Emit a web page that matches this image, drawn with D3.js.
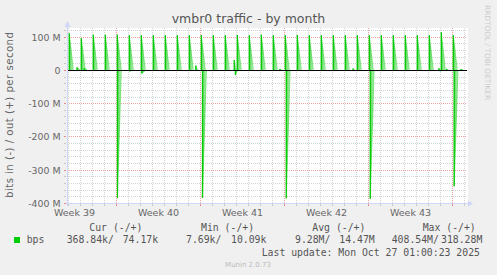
<!DOCTYPE html>
<html>
<head>
<meta charset="utf-8">
<script src="https://cdn.jsdelivr.net/npm/d3@7"></script>
<style>
  body { margin: 0; background: #f0f0f0; }
  svg text { font-family: "DejaVu Sans", sans-serif; fill: #666; }
  svg text.mono { font-family: "DejaVu Sans Mono", monospace; fill: #555; }
</style>
</head>
<body>
<div id="graph"></div>
<script>
// days counted from Mon 22 Sep 2025 00:00, values in Mbit/s
// out (+): daily backup spikes
var outStart = [3.11, 4.11, 5.11, 6.11, 7.11, 8.11, 9.11, 10.11, 11.11, 12.11, 13.11,
                14.11, 15.11, 16.11, 17.11, 18.11, 19.11, 20.11, 21.11, 22.11, 23.11, 24.11,
                25.11, 26.11, 27.11, 28.11, 29.11, 30.11, 31.11, 32.11, 33.11, 34.11, 35.11];
var outPeak  = [110, 95, 106, 106, 106, 104, 104, 104, 104, 104, 104,
                105, 104, 104, 105, 104, 106, 104, 104, 105, 104, 104,
                104, 104, 104, 104, 104, 104, 104, 104, 104, 113, 104];
var outEnd   = [3.44, 4.44, 5.44, 6.44, 7.44, 8.44, 9.44, 10.44, 11.44, 12.44, 13.44,
                14.44, 15.44, 16.44, 17.44, 18.44, 19.44, 20.44, 21.44, 22.44, 23.44, 24.44,
                25.44, 26.44, 27.44, 28.44, 29.44, 30.44, 31.44, 32.44, 33.44, 34.44, 35.44];
// in (-): weekly spikes
var inStart = [7.12, 14.21, 21.19, 28.19, 35.18];
var inPeak  = [-385, -385, -386, -387, -350];
var inEnd   = [7.44, 14.53, 21.51, 28.51, 35.50];
// small bumps near zero
var smallStart = [3.75, 4.35, 8.15, 9.15, 13.65, 16.85, 16.95, 20.65, 26.75, 33.9, 34.0, 34.55, 35.75];
var smallPeak  = [8, 5, -5, -11, 13, 30, -15, 3, 4, 5, -4, 3, 3];
var smallEnd   = [4.0, 4.6, 8.3, 9.5, 13.8, 17.0, 17.15, 20.8, 26.9, 34.05, 34.2, 34.7, 35.9];

var yTicks = [100, 0, -100, -200, -300, -400];
var weekLines = [7, 14, 21, 28, 35];
var weekMid = [3.5, 10.5, 17.5, 24.5, 31.5];
var weekLabels = ["Week 39", "Week 40", "Week 41", "Week 42", "Week 43"];

var legendHead = ["Cur (-/+)", "Min (-/+)", "Avg (-/+)", "Max (-/+)"];
var legendIn = ["368.84k/", "7.69k/", "9.28M/", "408.54M/"];
var legendOut = ["74.17k", "10.09k", "14.47M", "318.28M"];

var margin = {top: 28, left: 67},
    width = 400,
    height = 175;

var svg = d3.select("#graph")
  .append("svg")
    .attr("width", 497)
    .attr("height", 275);

svg.append("rect")
  .attr("width", 497).attr("height", 275)
  .attr("fill", "#f0f0f0");

var g = svg.append("g")
  .attr("transform", "translate(" + margin.left + "," + margin.top + ")");

var x = d3.scaleLinear()
  .domain([2.917, 36.25])
  .range([0, width]);
var y = d3.scaleLinear()
  .domain([-400, 126])
  .range([height, 0]);

function px(v) { return Math.round(v) + 0.5; }

// canvas
g.append("rect")
  .attr("width", width + 1).attr("height", height)
  .attr("fill", "#ffffff");

// minor grid
var minorY = d3.range(-380, 126, 20).filter(function(d) { return d % 100 !== 0; });
var minorX = d3.range(3, 37).filter(function(d) { return weekLines.indexOf(d) < 0; });
g.append("g").selectAll("line").data(minorY).enter().append("line")
  .attr("x1", 0).attr("x2", width)
  .attr("y1", function(d) { return px(y(d)); })
  .attr("y2", function(d) { return px(y(d)); })
  .attr("stroke", "#d4d4d4").attr("stroke-dasharray", "1,1");
g.append("g").selectAll("line").data(minorX).enter().append("line")
  .attr("y1", 0).attr("y2", height)
  .attr("x1", function(d) { return px(x(d)); })
  .attr("x2", function(d) { return px(x(d)); })
  .attr("stroke", "#d4d4d4").attr("stroke-dasharray", "1,1");

// major grid
g.append("g").selectAll("line").data([100, -100, -200, -300]).enter().append("line")
  .attr("x1", 0).attr("x2", width)
  .attr("y1", function(d) { return px(y(d)); })
  .attr("y2", function(d) { return px(y(d)); })
  .attr("stroke", "#eea0a0").attr("stroke-dasharray", "1,1");
g.append("g").selectAll("line").data(weekLines).enter().append("line")
  .attr("y1", 0).attr("y2", height)
  .attr("x1", function(d) { return px(x(d)); })
  .attr("x2", function(d) { return px(x(d)); })
  .attr("stroke", "#eea0a0").attr("stroke-dasharray", "1,1");

// gradient fill for spikes
var grad = svg.append("defs").append("linearGradient")
  .attr("id", "spikeFill")
  .attr("x1", 0).attr("y1", 0).attr("x2", 1).attr("y2", 0);
grad.append("stop").attr("offset", 0).attr("stop-color", "#44d444");
grad.append("stop").attr("offset", 1).attr("stop-color", "#d0f4d0");

var spikes = [];
outStart.forEach(function(s, i) { spikes.push([s, outPeak[i], outEnd[i]]); });
inStart.forEach(function(s, i) { spikes.push([s, inPeak[i], inEnd[i]]); });
smallStart.forEach(function(s, i) { spikes.push([s, smallPeak[i], smallEnd[i]]); });

var line = d3.line()
  .x(function(d) { return x(d[0]); })
  .y(function(d) { return y(d[1]); });

var sp = g.append("g").selectAll("g").data(spikes).enter().append("g");
sp.append("path")
  .attr("d", function(d) { return line([[d[0], 0], [d[0], d[1]], [d[2], 0]]) + "Z"; })
  .attr("fill", "url(#spikeFill)");
sp.append("path")
  .attr("d", function(d) { return line([[d[0], 0], [d[0], d[1]]]); })
  .attr("stroke", "#00cc00").attr("stroke-width", 1.3).attr("fill", "none");
sp.append("path")
  .attr("d", function(d) { return line([[d[0], d[1]], [d[2], 0]]); })
  .attr("stroke", "#00cc00").attr("stroke-opacity", 0.45).attr("stroke-width", 1).attr("fill", "none");

// zero line
g.append("line")
  .attr("x1", 0).attr("x2", width)
  .attr("y1", px(y(0))).attr("y2", px(y(0)))
  .attr("stroke", "#000");

// axes lines and arrows
var axisCol = "#cfd6f8";
g.append("line")
  .attr("x1", -3).attr("x2", width + 2)
  .attr("y1", height + 0.5).attr("y2", height + 0.5)
  .attr("stroke", axisCol);
g.append("line")
  .attr("x1", 0.5).attr("x2", 0.5)
  .attr("y1", height + 3).attr("y2", -4)
  .attr("stroke", axisCol);
g.append("path")
  .attr("d", "M" + (width + 1) + "," + (height - 2.5) + "L" + (width + 6) + "," + (height + 0.5) + "L" + (width + 1) + "," + (height + 3.5) + "Z")
  .attr("fill", axisCol);
g.append("path")
  .attr("d", "M-2.5,-1L0.5,-7L3.5,-1Z")
  .attr("fill", axisCol);

// small ticks on axes
g.append("g").selectAll("line").data(d3.range(3, 37)).enter().append("line")
  .attr("x1", function(d) { return px(x(d)); })
  .attr("x2", function(d) { return px(x(d)); })
  .attr("y1", height + 1).attr("y2", height + 3)
  .attr("stroke", function(d) { return weekLines.indexOf(d) < 0 ? "#c8c8c8" : "#ee8888"; });
g.append("g").selectAll("line").data(d3.range(-400, 126, 20)).enter().append("line")
  .attr("x1", -3).attr("x2", -1)
  .attr("y1", function(d) { return px(y(d)); })
  .attr("y2", function(d) { return px(y(d)); })
  .attr("stroke", function(d) { return d % 100 !== 0 ? "#c8c8c8" : "#ee8888"; });

// y axis labels
var yAxis = d3.axisLeft(y)
  .tickValues(yTicks)
  .tickSize(0)
  .tickPadding(6.5)
  .tickFormat(function(d) { return d === 0 ? "0" : d + " M"; });
var ya = g.append("g").call(yAxis);
ya.select(".domain").remove();
ya.selectAll("text")
  .style("font-family", "DejaVu Sans")
  .style("font-size", "9.4px")
  .attr("fill", "#666")
  .attr("dy", "0.36em");

// x axis labels
var xAxis = d3.axisBottom(x)
  .tickValues(weekMid)
  .tickSize(0)
  .tickPadding(6.3)
  .tickFormat(function(d, i) { return weekLabels[i]; });
var xa = g.append("g")
  .attr("transform", "translate(0," + height + ")")
  .call(xAxis);
xa.select(".domain").remove();
xa.selectAll("text")
  .style("font-family", "DejaVu Sans")
  .style("font-size", "9.5px")
  .attr("fill", "#666");

// title
svg.append("text")
  .attr("x", 248.5).attr("y", 22.5)
  .attr("text-anchor", "middle")
  .style("font-size", "12.5px")
  .style("fill", "#555")
  .text("vmbr0 traffic - by month");

// y title
svg.append("text")
  .attr("transform", "translate(13," + (margin.top + height / 2 - 0.5) + ") rotate(-90)")
  .attr("text-anchor", "middle")
  .attr("textLength", 166)
  .style("font-size", "10.2px")
  .text("bits in (-) / out (+) per second");

// rrdtool credit
svg.append("text")
  .attr("transform", "translate(484.5,5) rotate(90)")
  .style("font-size", "7.4px")
  .style("fill", "#cccccc")
  .text("RRDTOOL / TOBI OETIKER");

// legend
var headX = [89.3, 201, 312.3, 422.7];
var inX = [66.7, 186, 295, 391.7];
var outX = [122.7, 231, 339.3, 441];
svg.append("g").selectAll("text").data(legendHead).enter().append("text")
  .attr("class", "mono")
  .attr("x", function(d, i) { return headX[i]; }).attr("y", 231)
  .style("font-size", "9.8px")
  .text(function(d) { return d; });
svg.append("rect")
  .attr("x", 14).attr("y", 237).attr("width", 6).attr("height", 6)
  .attr("fill", "#00cc00");
svg.append("text")
  .attr("class", "mono")
  .attr("x", 26.7).attr("y", 243)
  .style("font-size", "9.8px")
  .text("bps");
svg.append("g").selectAll("text").data(legendIn).enter().append("text")
  .attr("class", "mono")
  .attr("x", function(d, i) { return inX[i]; }).attr("y", 243)
  .style("font-size", "9.8px")
  .text(function(d) { return d; });
svg.append("g").selectAll("text").data(legendOut).enter().append("text")
  .attr("class", "mono")
  .attr("x", function(d, i) { return outX[i]; }).attr("y", 243)
  .style("font-size", "9.8px")
  .text(function(d) { return d; });
svg.append("text")
  .attr("class", "mono")
  .attr("x", 261.7).attr("y", 255.5)
  .style("font-size", "9.8px")
  .text("Last update: Mon Oct 27 01:00:23 2025");

svg.append("text")
  .attr("x", 248).attr("y", 266.5)
  .attr("text-anchor", "middle")
  .style("font-size", "7px")
  .style("fill", "#bbbbbb")
  .text("Munin 2.0.73");
</script>
</body>
</html>
